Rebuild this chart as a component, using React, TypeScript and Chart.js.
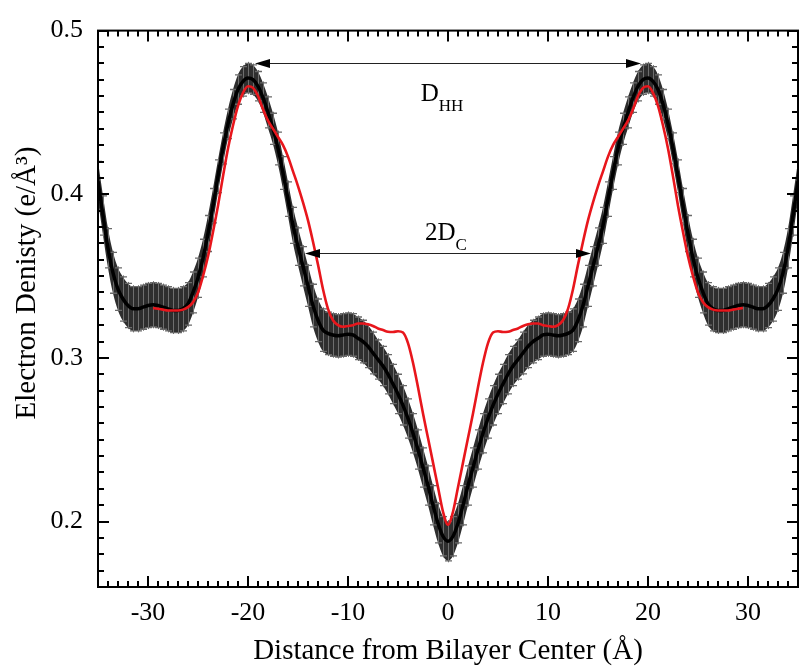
import React, { useEffect, useRef } from "react";
import { Chart, registerables } from "chart.js";

Chart.register(...registerables);

// ---------- data ----------
const distanceX = [-35,-34.5,-34,-33.5,-33,-32.5,-32,-31.5,-31,-30.5,-30,-29.5,-29,-28.5,-28,-27.5,-27,-26.5,-26,-25.5,-25,-24.5,-24,-23.5,-23,-22.5,-22,-21.5,-21,-20.5,-20,-19.5,-19,-18.5,-18,-17.5,-17,-16.5,-16,-15.5,-15,-14.5,-14,-13.5,-13,-12.5,-12,-11.5,-11,-10.5,-10,-9.5,-9,-8.5,-8,-7.5,-7,-6.5,-6,-5.5,-5,-4.5,-4,-3.5,-3,-2.5,-2,-1.5,-1,-0.5,0,0.5,1,1.5,2,2.5,3,3.5,4,4.5,5,5.5,6,6.5,7,7.5,8,8.5,9,9.5,10,10.5,11,11.5,12,12.5,13,13.5,14,14.5,15,15.5,16,16.5,17,17.5,18,18.5,19,19.5,20,20.5,21,21.5,22,22.5,23,23.5,24,24.5,25,25.5,26,26.5,27,27.5,28,28.5,29,29.5,30,30.5,31,31.5,32,32.5,33,33.5,34,34.5,35];

const densityMean = [
  0.408,0.387,0.367,0.352,0.342,0.336,0.332,0.330,0.330,0.331,
  0.332,0.3325,0.332,0.331,0.330,0.329,0.329,0.330,0.333,0.340,
  0.349,0.361,0.376,0.393,0.411,0.428,0.443,0.455,0.464,0.469,
  0.471,0.470,0.466,0.459,0.450,0.440,0.428,0.413,0.397,0.381,
  0.368,0.356,0.344,0.332,0.323,0.317,0.315,0.314,0.3135,0.314,
  0.3145,0.314,0.312,0.310,0.307,0.303,0.299,0.295,0.290,0.284,
  0.278,0.271,0.263,0.254,0.244,0.233,0.222,0.210,0.199,0.191,
  0.188,
  0.191,0.199,0.210,0.222,0.233,0.244,0.254,0.263,0.271,0.278,
  0.284,0.290,0.295,0.299,0.303,0.307,0.310,0.312,0.314,0.3145,
  0.314,0.3135,0.314,0.315,0.317,0.323,0.332,0.344,0.356,0.368,
  0.381,0.397,0.413,0.428,0.440,0.450,0.459,0.466,0.470,0.471,
  0.469,0.464,0.455,0.443,0.428,0.411,0.393,0.376,0.361,0.349,
  0.340,0.333,0.330,0.329,0.329,0.330,0.331,0.332,0.3325,0.332,
  0.331,0.330,0.330,0.332,0.336,0.342,0.352,0.367,0.387,0.408
];

const densityErr = [
  0.012,0.012,0.012,0.0125,0.013,
  0.0135,0.0135,0.0135,0.0135,0.0135,0.0135,0.0135,0.0135,0.0135,0.0135,0.0135,0.0135,0.0135,0.013,
  0.0125,0.012,0.0115,0.011,0.0105,0.010,0.0095,0.009,
  0.009,0.009,0.009,0.009,0.009,0.009,0.009,
  0.0095,0.0095,0.010,0.010,0.0105,0.011,0.0115,
  0.012,0.0125,0.013,0.013,0.013,0.013,0.013,0.013,0.013,0.013,0.013,0.013,0.013,0.013,
  0.0128,0.012,0.012,0.012,0.012,0.012,0.012,0.012,0.012,0.012,0.012,0.012,0.012,0.012,0.012,0.012,
  0.012,0.012,0.012,0.012,0.012,0.012,0.012,0.012,0.012,0.012,0.012,0.012,0.012,0.012,
  0.0128,
  0.013,0.013,0.013,0.013,0.013,0.013,0.013,0.013,0.013,0.013,0.013,0.013,
  0.0125,0.012,
  0.0115,0.011,0.0105,0.010,0.010,0.0095,0.0095,
  0.009,0.009,0.009,0.009,0.009,0.009,0.009,
  0.009,0.0095,0.010,0.0105,0.011,0.0115,0.012,0.0125,
  0.013,0.0135,0.0135,0.0135,0.0135,0.0135,0.0135,0.0135,0.0135,0.0135,0.0135,0.0135,0.0135,0.0135,
  0.013,0.0125,0.012,0.012,0.012
];

const modelX = [-29.5,-29,-28.5,-28,-27.5,-27,-26.5,-26,-25.5,-25,-24.5,-24,-23.5,-23,-22.5,-22,-21.5,-21,-20.5,-20,-19.5,-19,-18.5,-18,-17.5,-17,-16.5,-16,-15.5,-15,-14.5,-14,-13.5,-13,-12.5,-12,-11.5,-11,-10.5,-10,-9.5,-9,-8.5,-8,-7.5,-7,-6.5,-6,-5.5,-5,-4.5,-4,-3.5,-3,-2.5,-2,-1.5,-1,-0.5,0,0.5,1,1.5,2,2.5,3,3.5,4,4.5,5,5.5,6,6.5,7,7.5,8,8.5,9,9.5,10,10.5,11,11.5,12,12.5,13,13.5,14,14.5,15,15.5,16,16.5,17,17.5,18,18.5,19,19.5,20,20.5,21,21.5,22,22.5,23,23.5,24,24.5,25,25.5,26,26.5,27,27.5,28,28.5,29,29.5];

const modelDensity = [
  0.3305,0.330,0.3295,0.329,0.329,0.329,0.3295,0.331,0.334,0.340,
  0.350,0.362,0.377,0.393,0.411,0.428,0.442,0.454,0.462,0.466,
  0.465,0.460,0.452,0.445,0.440,0.435,0.430,0.423,0.414,0.405,
  0.395,0.384,0.371,0.357,0.342,0.330,0.323,0.320,0.319,0.3195,
  0.320,0.321,0.321,0.3205,0.3195,0.318,0.317,0.316,0.3158,0.3163,
  0.3155,0.309,0.297,0.282,0.266,0.251,0.236,0.221,0.206,0.198,
  0.206,0.221,0.236,0.251,0.266,0.282,0.297,0.309,0.3155,0.3163,
  0.3158,0.316,0.317,0.318,0.3195,0.3205,0.321,0.321,0.320,0.3195,
  0.319,0.320,0.323,0.330,0.342,0.357,0.371,0.384,0.395,0.405,
  0.414,0.423,0.430,0.435,0.440,0.445,0.452,0.460,0.465,0.466,
  0.462,0.454,0.442,0.428,0.411,0.393,0.377,0.362,0.350,0.340,
  0.334,0.331,0.3295,0.329,0.329,0.329,0.3295,0.330,0.3305
];

const xTickValues = [-30, -20, -10, 0, 10, 20, 30];
const yTickValues = [0.2, 0.3, 0.4, 0.5];
const xRange = [-35, 35];
const yRange = [0.16, 0.5];

const xTitle = "Distance from Bilayer Center (Å)";
const yTitle = "Electron Denisty (e/Å³)";

// annotation arrows (data units)
const dhhArrow = { main: "D", sub: "HH", y: 0.48, from: -19.3, to: 19.3, labelX: -0.6, labelY: 0.457 };
const dcArrow = { main: "2D", sub: "C", y: 0.364, from: -14.3, to: 14.3, labelX: -0.2, labelY: 0.372 };

const SERIF = '"Liberation Serif", "Times New Roman", serif';

export default function App() {
  const canvasRef = useRef<HTMLCanvasElement | null>(null);

  useEffect(() => {
    const canvas = canvasRef.current;
    if (!canvas) return;

    const pts = (xs: number[], ys: number[]) => xs.map((x, i) => ({ x, y: ys[i] }));
    const upper = densityMean.map((m, i) => m + densityErr[i]);
    const lower = densityMean.map((m, i) => m - densityErr[i]);

    const errorBars = {
      id: "errorBars",
      beforeDatasetDraw(chart: any, args: any) {
        if (args.index !== 1) return;
        const { ctx, chartArea, scales } = chart;
        const xs = scales.x, ys = scales.y;
        ctx.save();
        ctx.beginPath();
        ctx.rect(chartArea.left, chartArea.top, chartArea.right - chartArea.left, chartArea.bottom - chartArea.top);
        ctx.clip();
        ctx.strokeStyle = "#6e6e6e";
        ctx.lineWidth = 1;
        ctx.beginPath();
        distanceX.forEach((xv, i) => {
          const px = Math.round(xs.getPixelForValue(xv)) + 0.5;
          ctx.moveTo(px, ys.getPixelForValue(densityMean[i] + densityErr[i]) - 1.5);
          ctx.lineTo(px, ys.getPixelForValue(densityMean[i] - densityErr[i]) + 1.5);
        });
        ctx.stroke();
        ctx.strokeStyle = "#6a6a6a";
        ctx.lineWidth = 1.3;
        ctx.beginPath();
        distanceX.forEach((xv, i) => {
          const px = Math.round(xs.getPixelForValue(xv)) + 0.5;
          const t = ys.getPixelForValue(densityMean[i] + densityErr[i]);
          const b = ys.getPixelForValue(densityMean[i] - densityErr[i]);
          ctx.moveTo(px - 3.5, t); ctx.lineTo(px + 3.5, t);
          ctx.moveTo(px - 3.5, b); ctx.lineTo(px + 3.5, b);
        });
        ctx.stroke();
        ctx.restore();
      },
    };

    const frameTicks = {
      id: "frameTicks",
      afterDatasetsDraw(chart: any) {
        const { ctx, chartArea, scales } = chart;
        const { left, right, top, bottom } = chartArea;
        const xs = scales.x, ys = scales.y;
        ctx.save();
        ctx.strokeStyle = "#000";
        ctx.lineWidth = 2;
        ctx.beginPath();
        for (let v = xRange[0]; v <= xRange[1]; v += 1) {
          const major = xTickValues.includes(v);
          const len = major ? 11 : 6;
          const px = Math.round(xs.getPixelForValue(v));
          ctx.moveTo(px, bottom); ctx.lineTo(px, bottom - len);
          ctx.moveTo(px, top); ctx.lineTo(px, top + len);
        }
        for (let k = 16; k <= 50; k++) {
          const v = k / 100;
          const major = k % 10 === 0;
          const len = major ? 11 : 6;
          const py = Math.round(ys.getPixelForValue(v));
          ctx.moveTo(left, py); ctx.lineTo(left + len, py);
          ctx.moveTo(right, py); ctx.lineTo(right - len, py);
        }
        ctx.stroke();
        ctx.strokeRect(left, top, right - left, bottom - top);
        ctx.restore();
      },
    };

    const drawArrow = (ctx: CanvasRenderingContext2D, x1: number, x2: number, y: number) => {
      const L = 15, W = 4.5;
      ctx.beginPath();
      ctx.moveTo(x1 + L - 2, y); ctx.lineTo(x2 - L + 2, y);
      ctx.stroke();
      ctx.beginPath();
      ctx.moveTo(x1, y); ctx.lineTo(x1 + L, y - W); ctx.lineTo(x1 + L, y + W); ctx.closePath();
      ctx.fill();
      ctx.beginPath();
      ctx.moveTo(x2, y); ctx.lineTo(x2 - L, y - W); ctx.lineTo(x2 - L, y + W); ctx.closePath();
      ctx.fill();
    };

    const drawSubLabel = (ctx: CanvasRenderingContext2D, main: string, sub: string, cx: number, by: number) => {
      ctx.font = `25px ${SERIF}`;
      const w1 = ctx.measureText(main).width;
      ctx.font = `17px ${SERIF}`;
      const w2 = ctx.measureText(sub).width;
      const start = cx - (w1 + w2) / 2;
      ctx.textAlign = "left";
      ctx.textBaseline = "alphabetic";
      ctx.font = `25px ${SERIF}`;
      ctx.fillText(main, start, by);
      ctx.font = `17px ${SERIF}`;
      ctx.fillText(sub, start + w1, by + 10);
    };

    const annotations = {
      id: "annotations",
      afterDatasetsDraw(chart: any) {
        const { ctx, scales } = chart;
        const xs = scales.x, ys = scales.y;
        ctx.save();
        ctx.strokeStyle = "#222";
        ctx.fillStyle = "#000";
        ctx.lineWidth = 1;
        [dhhArrow, dcArrow].forEach((a) => {
          const y = Math.round(ys.getPixelForValue(a.y)) + 0.5;
          drawArrow(ctx, xs.getPixelForValue(a.from), xs.getPixelForValue(a.to), y);
          drawSubLabel(ctx, a.main, a.sub, xs.getPixelForValue(a.labelX), ys.getPixelForValue(a.labelY));
        });
        ctx.restore();
      },
    };

    const titles = {
      id: "titles",
      afterDraw(chart: any) {
        const { ctx, chartArea } = chart;
        ctx.save();
        ctx.fillStyle = "#000";
        ctx.font = `29px ${SERIF}`;
        ctx.textAlign = "center";
        ctx.textBaseline = "alphabetic";
        ctx.fillText(xTitle, (chartArea.left + chartArea.right) / 2, 659);
        ctx.translate(35, 283);
        ctx.rotate(-Math.PI / 2);
        ctx.fillText(yTitle, 0, 0);
        ctx.restore();
      },
    };

    const chart = new Chart(canvas, {
      type: "line",
      data: {
        datasets: [
          {
            label: "model",
            data: pts(modelX, modelDensity),
            borderColor: "#e8161c",
            borderWidth: 2.6,
            pointRadius: 0,
            cubicInterpolationMode: "monotone",
            fill: false,
            order: 0,
          },
          {
            label: "mean",
            data: pts(distanceX, densityMean),
            borderColor: "#000",
            borderWidth: 3.5,
            pointRadius: 0,
            cubicInterpolationMode: "monotone",
            fill: false,
            order: 1,
          },
          {
            label: "upper",
            data: pts(distanceX, upper),
            borderColor: "rgba(0,0,0,0)",
            borderWidth: 0,
            backgroundColor: "#2e2e2e",
            pointRadius: 0,
            cubicInterpolationMode: "monotone",
            fill: "+1",
            order: 2,
          },
          {
            label: "lower",
            data: pts(distanceX, lower),
            borderColor: "rgba(0,0,0,0)",
            borderWidth: 0,
            pointRadius: 0,
            cubicInterpolationMode: "monotone",
            fill: false,
            order: 3,
          },
        ] as any,
      },
      options: {
        animation: false,
        responsive: false,
        maintainAspectRatio: false,
        events: [],
        layout: { padding: { top: 22, right: 2, left: 0, bottom: 0 } },
        plugins: { legend: { display: false }, tooltip: { enabled: false } },
        scales: {
          x: {
            type: "linear",
            min: xRange[0],
            max: xRange[1],
            grid: { display: false, drawTicks: false },
            border: { display: false },
            ticks: {
              color: "#000",
              font: { family: SERIF, size: 26 },
              padding: 11,
              maxRotation: 0,
              autoSkip: false,
              callback: (v: any) => String(v),
            },
            afterBuildTicks: (s: any) => { s.ticks = xTickValues.map((v) => ({ value: v })); },
            afterFit: (s: any) => { s.height = 81; },
          },
          y: {
            type: "linear",
            min: yRange[0],
            max: yRange[1],
            grid: { display: false, drawTicks: false },
            border: { display: false },
            ticks: {
              color: "#000",
              font: { family: SERIF, size: 26 },
              padding: 15,
              autoSkip: false,
              callback: (v: any) => Number(v).toFixed(1),
            },
            afterBuildTicks: (s: any) => { s.ticks = yTickValues.map((v) => ({ value: v })); },
            afterFit: (s: any) => { s.width = 98; },
          },
        },
      } as any,
      plugins: [errorBars, frameTicks, annotations, titles],
    });

    return () => chart.destroy();
  }, []);

  return (
    <div style={{ position: "fixed", left: 0, top: 0, width: 800, height: 668, background: "#fff" }}>
      <canvas ref={canvasRef} width={800} height={668} style={{ display: "block", width: 800, height: 668 }} />
    </div>
  );
}
